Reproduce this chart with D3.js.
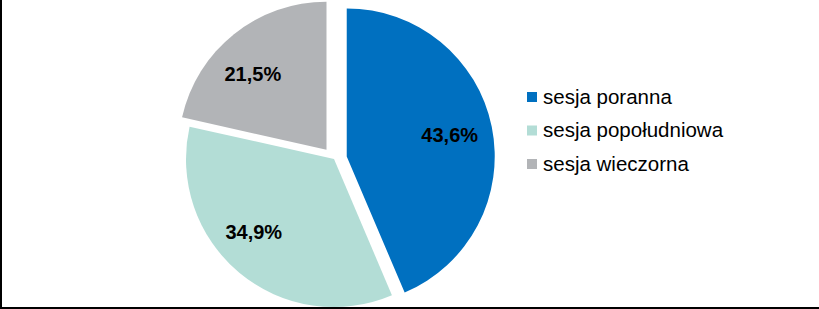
<!DOCTYPE html>
<html>
<head>
<meta charset="utf-8">
<script src="https://cdn.jsdelivr.net/npm/d3@7"></script>
<style>
  html, body { margin: 0; padding: 0; background: #fff; }
  svg { display: block; }
</style>
</head>
<body>
<svg id="chart" width="819" height="309"></svg>
<script>
const categories = ["sesja poranna", "sesja popołudniowa", "sesja wieczorna"];
const values = [43.6, 34.9, 21.5];
const labels = ["43,6%", "34,9%", "21,5%"];
const colors = ["#0070c0", "#b3ddd6", "#b2b4b7"];

const W = 819, H = 309;
const svg = d3.select("#chart");

const cx = 334, cy = 159, r = 148;
const explode = [13, 0, 12];
const labelR = 0.71 * r;
const labelShift = [[0, 0], [-13, -8], [-8, 6]];

const pie = d3.pie().sort(null).value(d => d).startAngle(0).endAngle(2 * Math.PI);
const arcs = pie(values);
const arc = d3.arc().innerRadius(0).outerRadius(r);

const g = svg.append("g").attr("transform", `translate(${cx},${cy})`);

const slices = g.selectAll("g.slice").data(arcs).enter().append("g")
  .attr("class", "slice")
  .attr("transform", (d, i) => {
    const a = (d.startAngle + d.endAngle) / 2;
    return `translate(${Math.sin(a) * explode[i]},${-Math.cos(a) * explode[i]})`;
  });

slices.append("path")
  .attr("d", arc)
  .attr("fill", (d, i) => colors[i]);

slices.append("text")
  .attr("x", (d, i) => Math.sin((d.startAngle + d.endAngle) / 2) * labelR + labelShift[i][0])
  .attr("y", (d, i) => -Math.cos((d.startAngle + d.endAngle) / 2) * labelR + labelShift[i][1])
  .attr("dy", "0.35em")
  .attr("text-anchor", "middle")
  .attr("font-family", "Liberation Sans, Arial, sans-serif")
  .attr("font-weight", "bold")
  .attr("font-size", 20)
  .attr("fill", "#000")
  .text((d, i) => labels[i]);

// legend
const leg = svg.append("g").attr("transform", "translate(527,92)");
const rowH = 33.5;
const items = leg.selectAll("g").data(categories).enter().append("g")
  .attr("transform", (d, i) => `translate(0,${i * rowH})`);
items.append("rect")
  .attr("width", 10).attr("height", 10)
  .attr("fill", (d, i) => colors[i]);
items.append("text")
  .attr("x", 16).attr("y", 11.5)
  .attr("font-family", "Liberation Sans, Arial, sans-serif")
  .attr("font-size", 20.5)
  .attr("fill", "#000")
  .text(d => d);

// frame (left and bottom visible)
svg.append("line").attr("x1", 1).attr("y1", 0).attr("x2", 1).attr("y2", H)
  .attr("stroke", "#000").attr("stroke-width", 2);
svg.append("line").attr("x1", 0).attr("y1", 308).attr("x2", W).attr("y2", 308)
  .attr("stroke", "#000").attr("stroke-width", 2);
</script>
</body>
</html>
